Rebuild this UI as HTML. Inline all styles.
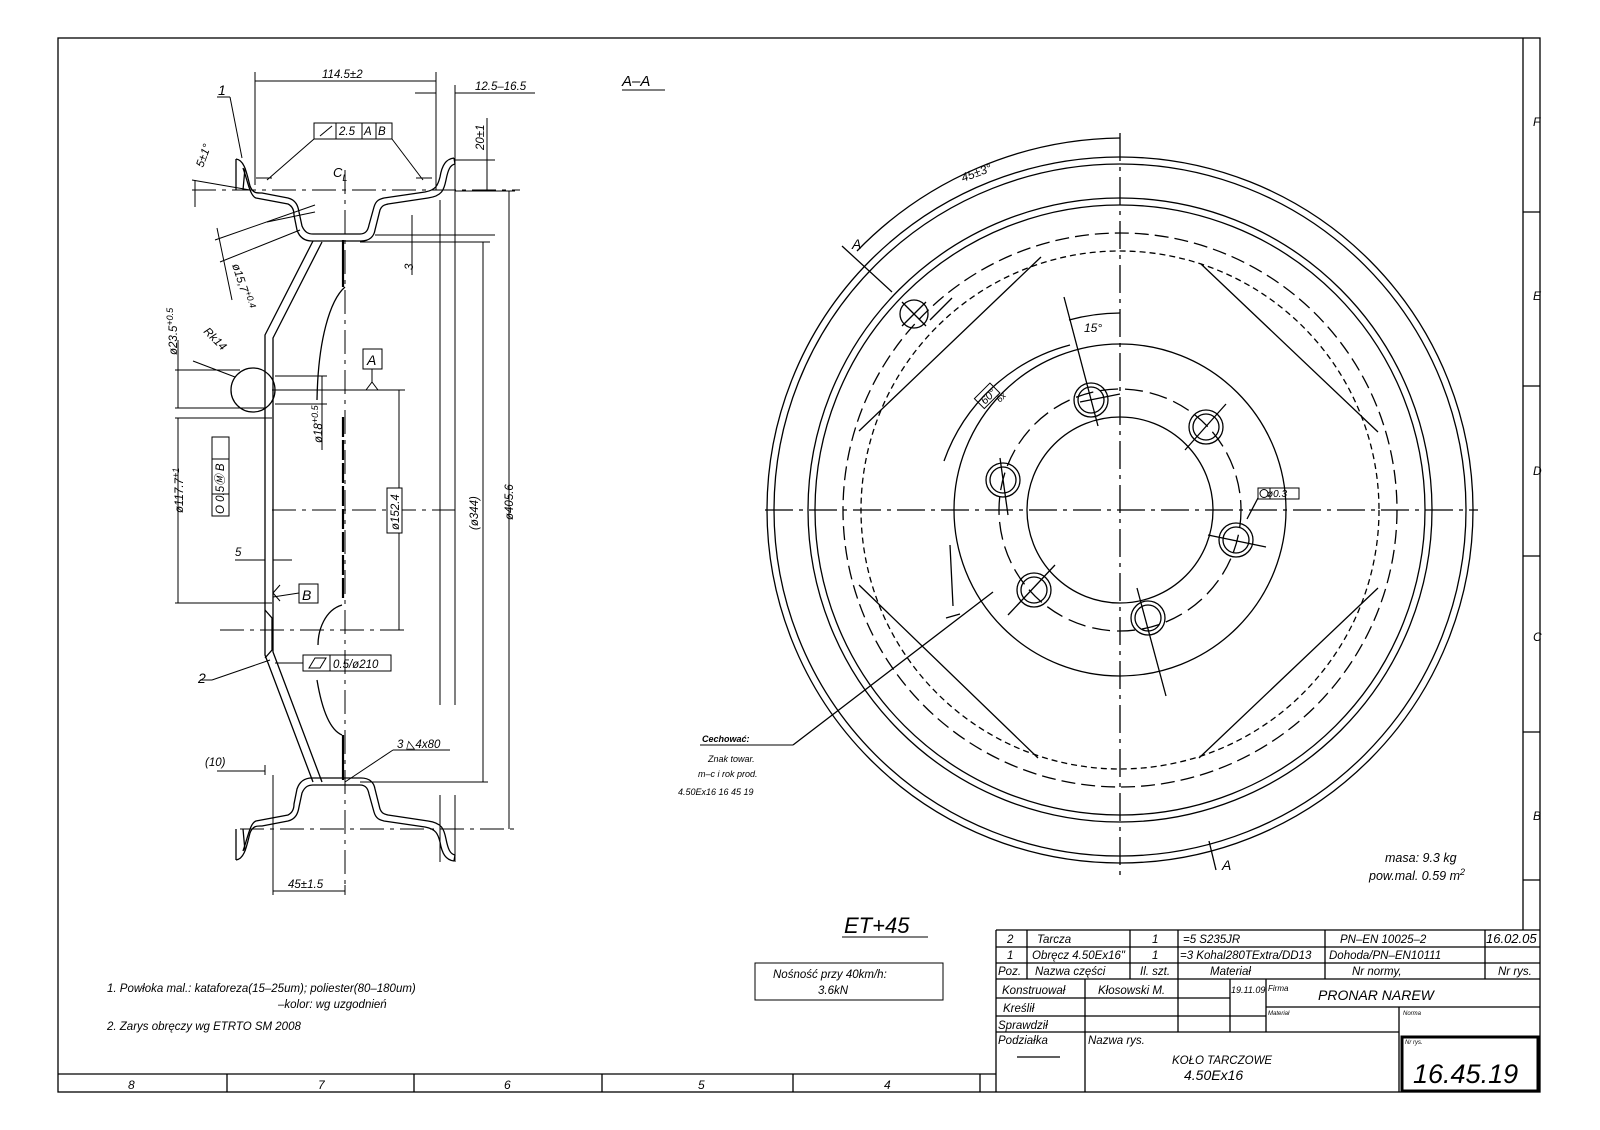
<!DOCTYPE html>
<html><head><meta charset="utf-8"><style>
html,body{margin:0;padding:0;background:#fff}
svg{display:block}
text{font-family:"Liberation Sans",sans-serif;font-style:italic;fill:#000}
</style></head><body>
<svg width="1600" height="1130" viewBox="0 0 1600 1130" xmlns="http://www.w3.org/2000/svg">
<g fill="none" stroke="#000" stroke-width="1.3">
<!-- frame -->
<rect x="58" y="38" width="1482" height="1054"/>
<line x1="1523" y1="38" x2="1523" y2="930"/>
<line x1="1523" y1="212" x2="1540" y2="212"/><line x1="1523" y1="386" x2="1540" y2="386"/>
<line x1="1523" y1="556" x2="1540" y2="556"/><line x1="1523" y1="732" x2="1540" y2="732"/>
<line x1="1523" y1="880" x2="1540" y2="880"/>
<line x1="58" y1="1074" x2="996" y2="1074"/>
<line x1="227" y1="1074" x2="227" y2="1092"/><line x1="414" y1="1074" x2="414" y2="1092"/>
<line x1="602" y1="1074" x2="602" y2="1092"/><line x1="793" y1="1074" x2="793" y2="1092"/>
<line x1="980" y1="1074" x2="980" y2="1092"/>

<!-- title block -->
<line x1="996" y1="930" x2="1540" y2="930"/>
<line x1="996" y1="930" x2="996" y2="1092"/>
<line x1="996" y1="947" x2="1540" y2="947"/>
<line x1="996" y1="963" x2="1540" y2="963"/>
<line x1="996" y1="979" x2="1540" y2="979"/>
<line x1="996" y1="998" x2="1230" y2="998"/>
<line x1="1266" y1="1007" x2="1540" y2="1007"/>
<line x1="996" y1="1016" x2="1266" y2="1016"/>
<line x1="996" y1="1032" x2="1399" y2="1032"/>
<line x1="1027" y1="930" x2="1027" y2="979"/>
<line x1="1130" y1="930" x2="1130" y2="979"/>
<line x1="1178" y1="930" x2="1178" y2="1032"/>
<line x1="1325" y1="930" x2="1325" y2="979"/>
<line x1="1485" y1="930" x2="1485" y2="979"/>
<line x1="1085" y1="979" x2="1085" y2="1092"/>
<line x1="1230" y1="979" x2="1230" y2="1032"/>
<line x1="1266" y1="979" x2="1266" y2="1032"/>
<line x1="1399" y1="1007" x2="1399" y2="1092"/>
<rect x="1402" y="1037" width="136" height="54" stroke-width="3"/>
<line x1="1017" y1="1057" x2="1060" y2="1057"/>

<!-- ===== RIGHT VIEW ===== -->
<g transform="translate(1120,510)">
<circle r="353"/><circle r="346"/><circle r="312"/><circle r="305"/>
<circle r="277" stroke-dasharray="14 6"/>
<circle r="259" stroke-dasharray="6 4"/>
<circle r="166"/>
<circle r="121" stroke-dasharray="18 7"/>
<circle r="93"/>
<g>
<circle cx="-29" cy="-110" r="17"/><circle cx="-29" cy="-110" r="13"/>
<circle cx="86" cy="-83" r="17"/><circle cx="86" cy="-83" r="13"/>
<circle cx="116" cy="30" r="17"/><circle cx="116" cy="30" r="13"/>
<circle cx="28" cy="108" r="17"/><circle cx="28" cy="108" r="13"/>
<circle cx="-86" cy="80" r="17"/><circle cx="-86" cy="80" r="13"/>
<circle cx="-117" cy="-30" r="17"/><circle cx="-117" cy="-30" r="13"/>
<line x1="-56" y1="-213" x2="-22" y2="-84"/>
<line x1="-40" y1="-108" x2="0" y2="-116"/>
<line x1="65" y1="-60" x2="106" y2="-106"/>
<line x1="88" y1="25" x2="146" y2="37"/>
<line x1="17" y1="78" x2="46" y2="186"/>
<line x1="-112" y1="105" x2="-65" y2="55"/>
<line x1="-112" y1="5" x2="-120" y2="-52"/>
</g>
<line x1="-261" y1="-79" x2="-79" y2="-253"/>
<line x1="81" y1="-246" x2="258" y2="-78"/>
<line x1="-261" y1="75" x2="-82" y2="248"/>
<line x1="79" y1="248" x2="258" y2="78"/>
<circle cx="-206" cy="-196" r="14"/>
<line x1="-218" y1="-208" x2="-194" y2="-184"/><line x1="-194" y1="-208" x2="-218" y2="-184"/>
<line x1="-278" y1="-264" x2="-228" y2="-218"/>
<path d="M-263,-259 A372,372 0 0 1 0,-372"/>
<line x1="-190" y1="-190" x2="-168" y2="-212"/>
<path d="M-51,-190 A197,197 0 0 1 0,-197"/>
<path d="M-176,-49 A183,183 0 0 1 -50,-165"/>
<line x1="89" y1="331" x2="96" y2="360"/>
<path d="M-167,96 L-170,35 M-160,104 L-174,108"/>
<line x1="-127" y1="82" x2="-327" y2="235"/>
<line x1="127" y1="9" x2="138" y2="-12"/>
<rect x="138" y="-22" width="41" height="11" stroke-width="1"/>
<line x1="150" y1="-22" x2="150" y2="-11" stroke-width="1"/>
<circle cx="144" cy="-16.5" r="4" stroke-width="1"/>
</g>
<g stroke-dasharray="28 6 4 6">
<line x1="765" y1="510" x2="1478" y2="510"/>
<line x1="1120" y1="133" x2="1120" y2="875"/>
</g>

<!-- ===== LEFT VIEW ===== -->
<g id="rim">
<path d="M236,159 C245,160 247,175 250,186 C253,194 258,193 262,193 L288,198 C296,200 298,206 299,212 L302,226 C305,233 309,234 313,234 L360,234 C366,234 368,230 369,225 L374,207 C376,200 380,199 384,198 L425,192 C436,190 438,185 440,177 C442,165 446,159 454,158"/>
<path d="M236,159 L236,190 M245,168 L243,190"/>
<path d="M243,168 C248,182 250,196 256,198 L288,204 C292,206 294,210 294,215 L297,230 C300,239 306,241 312,241 L361,241 C370,241 374,236 375,230 L380,210 C382,205 385,205 388,204 L428,198 C442,196 444,190 446,180 C448,170 450,165 455,164"/>
<line x1="454" y1="158" x2="455" y2="164"/>
</g>
<use href="#rim" transform="translate(0,1019) scale(1,-1)"/>
<!-- disc -->
<path d="M313,241 L265,335 L265,655 L313,782"/>
<path d="M322,242 L273,338 L273,652 L322,782"/>
<path d="M345,287 C330,300 318,340 317,400"/>
<path d="M342,605 C325,610 318,630 318,645"/>
<path d="M317,680 C322,710 330,730 342,735"/>
<path d="M265,610 L272,618 L272,650 L265,658"/>
<line x1="343" y1="417" x2="343" y2="600" stroke-width="2.2" stroke-dasharray="20 3"/>
<line x1="343" y1="240" x2="343" y2="287" stroke-width="2.2"/>
<line x1="343" y1="735" x2="343" y2="780" stroke-width="2.2"/>
<circle cx="253" cy="390" r="22"/>
<!-- center lines -->
<g stroke-dasharray="24 6 4 6" stroke-width="1">
<line x1="345" y1="170" x2="345" y2="885"/>
<line x1="192" y1="190" x2="520" y2="190"/>
<line x1="240" y1="829" x2="520" y2="829"/>
<line x1="272" y1="510" x2="455" y2="510"/>
<line x1="220" y1="630" x2="405" y2="630"/>
</g>
<!-- dimension/extension lines -->
<g stroke-width="1">
<line x1="255" y1="72" x2="255" y2="185"/><line x1="436" y1="72" x2="436" y2="190"/>
<line x1="255" y1="81" x2="436" y2="81"/>
<line x1="455" y1="85" x2="455" y2="705"/><line x1="440" y1="200" x2="440" y2="705"/>
<line x1="455" y1="93" x2="535" y2="93"/><line x1="415" y1="93" x2="436" y2="93"/>
<line x1="455" y1="160" x2="495" y2="160"/>
<line x1="487" y1="118" x2="487" y2="190"/>
<line x1="455" y1="191" x2="515" y2="191"/>
<line x1="375" y1="235" x2="495" y2="235"/>
<line x1="360" y1="242" x2="490" y2="242"/>
<line x1="412" y1="215" x2="412" y2="275"/>
<line x1="483" y1="242" x2="483" y2="782"/>
<line x1="509" y1="191" x2="509" y2="829"/>
<line x1="360" y1="782" x2="488" y2="782"/>
<line x1="455" y1="795" x2="455" y2="862"/><line x1="440" y1="795" x2="440" y2="862"/>
<line x1="272" y1="390" x2="405" y2="390"/>
<line x1="399" y1="390" x2="399" y2="630"/>
<line x1="175" y1="370" x2="240" y2="370"/>
<line x1="175" y1="408" x2="265" y2="408"/>
<line x1="178" y1="340" x2="178" y2="408"/>
<line x1="175" y1="418" x2="272" y2="418"/>
<line x1="175" y1="603" x2="272" y2="603"/>
<line x1="178" y1="418" x2="178" y2="603"/>
<line x1="275" y1="376" x2="327" y2="376"/>
<line x1="275" y1="404" x2="327" y2="404"/>
<line x1="322" y1="376" x2="322" y2="450"/>
<line x1="235" y1="560" x2="265" y2="560"/><line x1="273" y1="560" x2="292" y2="560"/>
<line x1="192" y1="180" x2="250" y2="190"/>
<line x1="195" y1="180" x2="195" y2="207"/>
<line x1="215" y1="240" x2="315" y2="205"/>
<line x1="220" y1="262" x2="300" y2="230"/>
<line x1="267" y1="222" x2="315" y2="212"/>
<line x1="217" y1="228" x2="232" y2="300"/>
<line x1="217" y1="771" x2="265" y2="771"/>
<line x1="265" y1="765" x2="265" y2="775"/>
<line x1="273" y1="775" x2="273" y2="895"/>
<line x1="345" y1="885" x2="345" y2="895"/>
<line x1="273" y1="891" x2="345" y2="891"/>
<line x1="217" y1="97" x2="230" y2="97"/><line x1="230" y1="97" x2="242" y2="158"/>
<line x1="314" y1="139" x2="267" y2="180"/>
<line x1="392" y1="139" x2="423" y2="180"/>
<line x1="256" y1="178" x2="272" y2="178"/>
<line x1="416" y1="178" x2="432" y2="178"/>
<line x1="200" y1="680" x2="212" y2="680"/><line x1="212" y1="680" x2="270" y2="660"/>
<line x1="275" y1="663" x2="303" y2="663"/>
<line x1="273" y1="597" x2="299" y2="593"/>
<line x1="273" y1="593" x2="280" y2="585"/><line x1="273" y1="593" x2="280" y2="601"/>
<line x1="372" y1="369" x2="372" y2="382"/>
<line x1="372" y1="382" x2="366" y2="390"/><line x1="372" y1="382" x2="378" y2="390"/>
<line x1="193" y1="361" x2="235" y2="377"/>
<line x1="393" y1="750" x2="450" y2="750"/><line x1="393" y1="750" x2="345" y2="782"/>
<line x1="622" y1="90" x2="665" y2="90"/>
<line x1="700" y1="745" x2="793" y2="745"/>
<line x1="842" y1="937" x2="928" y2="937"/>
</g>
<!-- boxes -->
<g stroke-width="1">
<rect x="314" y="123" width="78" height="16"/><line x1="336" y1="123" x2="336" y2="139"/><line x1="362" y1="123" x2="362" y2="139"/><line x1="376" y1="123" x2="376" y2="139"/>
<line x1="320" y1="136" x2="332" y2="126"/>
<rect x="363" y="349" width="19" height="20"/>
<rect x="212" y="437" width="17" height="79"/><line x1="212" y1="459" x2="229" y2="459"/><line x1="212" y1="494" x2="229" y2="494"/>
<rect x="387" y="488" width="15" height="45" fill="#fff"/>
<rect x="299" y="584" width="19" height="19"/>
<rect x="303" y="655" width="88" height="16"/><line x1="330" y1="655" x2="330" y2="671"/>
<path d="M309,668 L315,658 L326,658 L320,668 Z"/>
<rect x="755" y="963" width="188" height="37"/>
</g>
</g>

<!-- text -->
<g font-size="12">
<text x="1533" y="126" font-style="normal">F</text>
<text x="1533" y="300" font-style="normal">E</text>
<text x="1533" y="475" font-style="normal">D</text>
<text x="1533" y="641" font-style="normal">C</text>
<text x="1533" y="820" font-style="normal">B</text>
<text x="128" y="1089" font-style="normal">8</text>
<text x="318" y="1089" font-style="normal">7</text>
<text x="504" y="1089" font-style="normal">6</text>
<text x="698" y="1089" font-style="normal">5</text>
<text x="884" y="1089" font-style="normal">4</text>
</g>
<g font-size="11.5">
<text x="1007" y="943">2</text><text x="1037" y="943">Tarcza</text><text x="1152" y="943">1</text><text x="1183" y="943">=5   S235JR</text><text x="1340" y="943">PN–EN 10025–2</text><text x="1486" y="943" font-size="13">16.02.05</text>
<text x="1007" y="959">1</text><text x="1032" y="959">Obręcz 4.50Ex16"</text><text x="1152" y="959">1</text><text x="1180" y="959">=3 Kohal280TExtra/DD13</text><text x="1329" y="959">Dohoda/PN–EN10111</text>
<text x="998" y="975">Poz.</text><text x="1035" y="975">Nazwa części</text><text x="1140" y="975">Il. szt.</text><text x="1210" y="975">Materiał</text><text x="1352" y="975">Nr normy,</text><text x="1498" y="975">Nr rys.</text>
<text x="1002" y="994">Konstruował</text><text x="1098" y="994">Kłosowski M.</text><text x="1231" y="993" font-size="9">19.11.09</text><text x="1268" y="991" font-size="8">Firma</text>
<text x="1318" y="1000" font-size="14">PRONAR NAREW</text>
<text x="1003" y="1012">Kreślił</text><text x="1268" y="1015" font-size="6">Materiał</text><text x="1403" y="1015" font-size="6">Norma</text>
<text x="998" y="1029">Sprawdził</text>
<text x="998" y="1044">Podziałka</text><text x="1088" y="1044">Nazwa rys.</text>
<text x="1172" y="1064">KOŁO TARCZOWE</text><text x="1184" y="1080" font-size="14">4.50Ex16</text>
<text x="1405" y="1044" font-size="6">Nr rys.</text>
<text x="1413" y="1083" font-size="27">16.45.19</text>
<text x="844" y="933" font-size="22">ET+45</text>
<text x="773" y="978">Nośność  przy 40km/h:</text><text x="818" y="994">3.6kN</text>
<text x="1385" y="862" font-size="12.5">masa:  9.3 kg</text>
<text x="1369" y="880" font-size="12.5">pow.mal.  0.59 m<tspan dy="-5" font-size="9">2</tspan></text>
<text x="107" y="992">1. Powłoka mal.: kataforeza(15–25um); poliester(80–180um)</text>
<text x="278" y="1008">–kolor:  wg uzgodnień</text>
<text x="107" y="1030">2. Zarys obręczy wg ETRTO SM 2008</text>
<text x="622" y="86" font-size="15">A–A</text>
<text x="702" y="742" font-size="9" font-weight="bold">Cechować:</text>
<text x="708" y="762" font-size="9">Znak towar.</text>
<text x="698" y="777" font-size="9">m–c i rok prod.</text>
<text x="678" y="795" font-size="9">4.50Ex16      16  45  19</text>
<text x="852" y="249" font-size="14">A</text>
<text x="1222" y="870" font-size="14">A</text>
<text x="1084" y="332" font-size="12">15°</text>
<text x="1267" y="497" font-size="10">ø0.3</text>
<text x="963" y="182" font-size="12" transform="rotate(-20 963 182)">45±3°</text>
<g transform="translate(985,405) rotate(-45)"><rect x="-3" y="-12" width="22" height="14" fill="none" stroke="#000" stroke-width="1"/><text x="0" y="0" font-size="11">60°</text><text x="12" y="9" font-size="9">6x</text></g>
<text x="322" y="78">114.5±2</text>
<text x="475" y="90">12.5–16.5</text>
<text x="484" y="150" transform="rotate(-90 484 150)">20±1</text>
<text x="203" y="168" transform="rotate(-70 203 168)">5±1°</text>
<text x="218" y="95" font-size="14">1</text>
<text x="333" y="177" font-size="13">C<tspan font-size="9" dy="4">L</tspan></text>
<text x="339" y="135">2.5</text><text x="364" y="135">A</text><text x="378" y="135">B</text>
<text x="232" y="265" transform="rotate(72 232 265)">ø15,7<tspan font-size="9" dy="-4">+0</tspan><tspan font-size="9">.4</tspan></text>
<text x="413" y="270" transform="rotate(-90 413 270)">3</text>
<text x="177" y="355" transform="rotate(-90 177 355)">ø23.5<tspan font-size="9" dy="-4">+0.5</tspan></text>
<text x="203" y="332" transform="rotate(45 203 332)">Rk14</text>
<text x="367" y="365" font-size="14">A</text>
<text x="224" y="514" transform="rotate(-90 224 514)">O 0.5Ⓜ B</text>
<text x="183" y="513" transform="rotate(-90 183 513)">ø117.7<tspan font-size="9" dy="-4">+1</tspan></text>
<text x="322" y="443" transform="rotate(-90 322 443)">ø18<tspan font-size="9" dy="-4">+0.5</tspan></text>
<text x="399" y="530" transform="rotate(-90 399 530)">ø152.4</text>
<text x="478" y="530" transform="rotate(-90 478 530)">(ø344)</text>
<text x="513" y="520" transform="rotate(-90 513 520)">ø405.6</text>
<text x="235" y="556">5</text>
<text x="302" y="600" font-size="14">B</text>
<text x="333" y="668">0.5/ø210</text>
<text x="198" y="683" font-size="14">2</text>
<text x="205" y="766">(10)</text>
<text x="397" y="748">3 ◺4x80</text>
<text x="288" y="888">45±1.5</text>
</g>
</svg>
</body></html>
